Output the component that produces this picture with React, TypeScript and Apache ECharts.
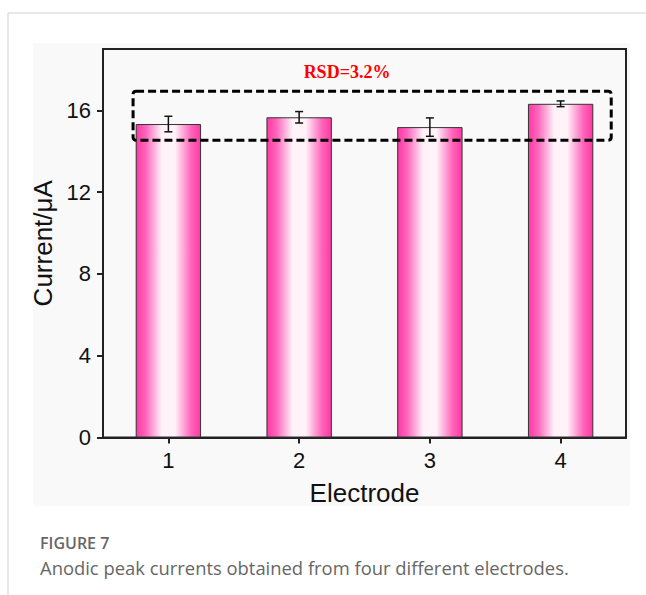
import React, { useEffect, useRef } from "react";
import * as echarts from "echarts";

const categories = ["1", "2", "3", "4"];
const currents = [15.33, 15.66, 15.18, 16.32];
const errors = [0.38, 0.28, 0.45, 0.14];
const yTicks = [0, 4, 8, 12, 16];
// dashed annotation box: category index + band offset, value range
const boxX = [0, -0.27, 3, 0.387];
const boxY = [14.54, 16.93];
const rsdLabel = "RSD=3.2%";
const figureTitle = "FIGURE 7";
const figureCaption = "Anodic peak currents obtained from four different electrodes.";

export default function App() {
  const ref = useRef<HTMLDivElement>(null);
  useEffect(() => {
    if (!ref.current) return;
    const chart = echarts.init(ref.current, undefined, { renderer: "svg" });
    const barGrad = new echarts.graphic.LinearGradient(0, 0, 1, 0, [
      { offset: 0, color: "#ff38a5" },
      { offset: 0.15, color: "#ff66bb" },
      { offset: 0.4, color: "#fff3f9" },
      { offset: 0.6, color: "#fff3f9" },
      { offset: 0.85, color: "#ff66bb" },
      { offset: 1, color: "#ff38a5" },
    ]);
    const font = "'Liberation Sans', Arial, sans-serif";
    chart.setOption({
      animation: false,
      backgroundColor: "#ffffff",
      grid: {
        left: 103,
        top: 49,
        right: 20,
        bottom: 157.5,
        show: true,
        backgroundColor: "#f9f9f9",
        borderColor: "#222",
        borderWidth: 2,
        z: 1,
      },
      graphic: [
        { type: "rect", shape: { x: 33, y: 43, width: 597, height: 463 }, style: { fill: "#f9f9f9" }, z: -10 },
        { type: "line", shape: { x1: 8, y1: 13, x2: 646, y2: 13 }, style: { stroke: "#cfcfcf", lineWidth: 1 } },
        { type: "line", shape: { x1: 8, y1: 13, x2: 8, y2: 595 }, style: { stroke: "#cfcfcf", lineWidth: 1 } },
        {
          type: "text",
          x: 347,
          y: 72,
          style: {
            text: rsdLabel,
            fill: "#ff0000",
            font: "bold 18px 'Liberation Serif', 'Times New Roman', serif",
            textAlign: "center",
            textVerticalAlign: "middle",
          },
          z: 10,
        },
        {
          type: "text",
          x: 40,
          y: 543,
          style: {
            text: figureTitle,
            fill: "#666",
            font: "600 16px 'Open Sans', sans-serif",
            textVerticalAlign: "middle",
          },
        },
        {
          type: "text",
          x: 40,
          y: 567,
          style: {
            text: figureCaption,
            fill: "#666",
            font: "18.4px 'Open Sans', sans-serif",
            textVerticalAlign: "middle",
          },
        },
      ],
      xAxis: {
        type: "category",
        data: categories,
        name: "Electrode",
        nameLocation: "middle",
        nameGap: 42,
        nameTextStyle: { fontSize: 26, fontFamily: font, color: "#111" },
        axisLine: { show: true, lineStyle: { color: "#222", width: 2 } },
        axisTick: { show: true, alignWithLabel: true, length: 6, lineStyle: { color: "#222", width: 2 } },
        axisLabel: { fontSize: 22, fontFamily: font, color: "#111", margin: 12 },
        splitLine: { show: false },
      },
      yAxis: {
        type: "value",
        min: 0,
        max: 19,
        interval: 4,
        name: "Current/μA",
        nameLocation: "middle",
        nameGap: 45,
        nameTextStyle: { fontSize: 26, fontFamily: font, color: "#111" },
        axisLine: { show: true, lineStyle: { color: "#222", width: 2 } },
        axisTick: { show: true, length: 6, customValues: yTicks, lineStyle: { color: "#222", width: 2 } },
        axisLabel: {
          fontSize: 22,
          fontFamily: font,
          color: "#111",
          margin: 12,
          customValues: yTicks,
        },
        splitLine: { show: false },
      },
      series: [
        {
          type: "bar",
          data: currents,
          barWidth: "50%",
          itemStyle: { color: barGrad, borderColor: "#333", borderWidth: 1 },
          z: 2,
        },
        {
          type: "custom",
          data: currents.map((v, i) => [i, v, errors[i]]),
          z: 5,
          renderItem: (params: any, api: any) => {
            const i = api.value(0);
            const v = api.value(1);
            const e = api.value(2);
            const top = api.coord([i, v + e]);
            const bot = api.coord([i, v - e]);
            const w = 4;
            const style = { stroke: "#111", lineWidth: 1.5 };
            return {
              type: "group",
              children: [
                { type: "line", shape: { x1: top[0], y1: top[1], x2: bot[0], y2: bot[1] }, style },
                { type: "line", shape: { x1: top[0] - w, y1: top[1], x2: top[0] + w, y2: top[1] }, style },
                { type: "line", shape: { x1: bot[0] - w, y1: bot[1], x2: bot[0] + w, y2: bot[1] }, style },
              ],
            };
          },
        },
        {
          type: "custom",
          data: [[boxX[0], boxX[1], boxX[2], boxX[3], boxY[0], boxY[1]]],
          z: 6,
          renderItem: (params: any, api: any) => {
            const band = api.size([1, 0])[0];
            const p0 = api.coord([api.value(0), api.value(5)]);
            const p1 = api.coord([api.value(2), api.value(4)]);
            const x0 = p0[0] + api.value(1) * band;
            const x1 = p1[0] + api.value(3) * band;
            return {
              type: "rect",
              shape: { x: x0, y: p0[1], width: x1 - x0, height: p1[1] - p0[1], r: 3 },
              style: { fill: "none", stroke: "#000", lineWidth: 3, lineDash: [8, 4] },
            };
          },
        },
      ],
    });
    return () => chart.dispose();
  }, []);
  return (
    <div
      ref={ref}
      style={{ position: "absolute", left: 0, top: 0, width: 646, height: 595 }}
    />
  );
}
